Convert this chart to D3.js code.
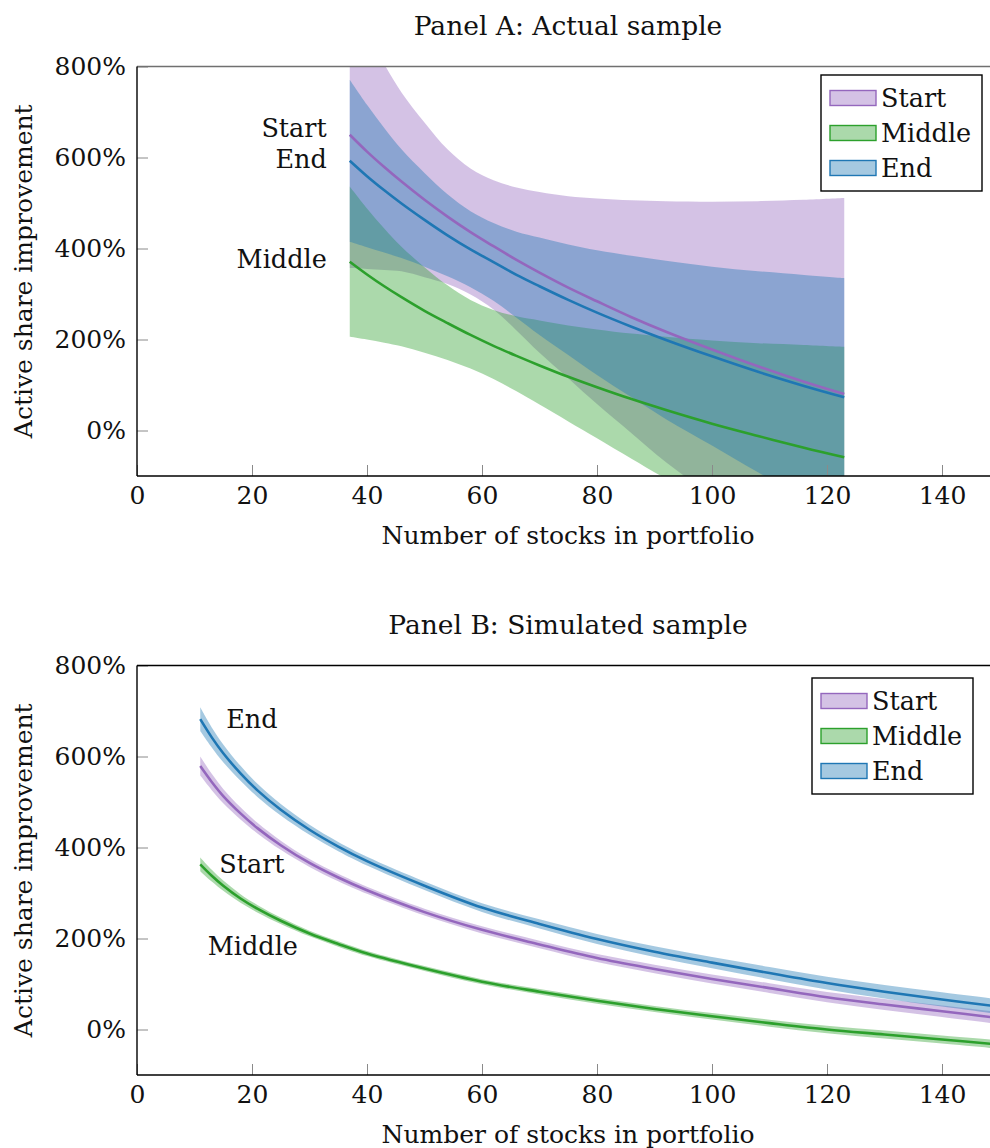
<!DOCTYPE html>
<html>
<head>
<meta charset="utf-8">
<script src="https://cdn.jsdelivr.net/npm/d3@7"></script>
<style>
  body { margin: 0; background: #fff; }
  svg { display: block; font-family: "DejaVu Serif", "Liberation Serif", serif; }
  svg text { font-family: "DejaVu Serif", "Liberation Serif", serif; }
</style>
</head>
<body>
<div id="chart"></div>
<script>
// ---- Panel A: actual sample (values in %) ----
const xA = [37, 40, 43, 46, 50, 54, 58, 62, 66, 70, 75, 80, 86, 92, 100, 108, 116, 123];
const startA   = [650, 613, 579, 547, 507, 470, 436, 405, 375, 347, 314, 284, 249, 217, 178, 141, 107, 80];
const startLoA = [357, 355, 353, 350, 337, 322, 299, 266, 220, 171, 115, 58, -6, -70, -144, -222, -294, -351];
const startHiA = [943, 871, 805, 743, 677, 618, 576, 550, 534, 524, 515, 510, 506, 504, 503, 504, 507, 511];
const middleA   = [371, 343, 317, 293, 263, 236, 210, 186, 164, 143, 118, 95, 69, 45, 15, -12, -38, -59];
const middleLoA = [206, 200, 193, 185, 171, 155, 136, 113, 86, 57, 20, -17, -62, -106, -160, -212, -262, -302];
const middleHiA = [536, 488, 444, 404, 359, 319, 287, 265, 251, 242, 231, 222, 213, 206, 198, 192, 188, 184];
const endA   = [593, 559, 528, 499, 463, 429, 398, 370, 342, 317, 287, 259, 228, 199, 163, 129, 98, 73];
const endLoA = [415, 403, 391, 379, 360, 339, 315, 285, 248, 210, 166, 122, 73, 25, -33, -92, -146, -189];
const endHiA = [771, 716, 665, 618, 566, 519, 482, 456, 437, 424, 409, 396, 384, 373, 360, 350, 342, 335];

// ---- Panel B: simulated sample (values in %, band half-widths in %) ----
const xB = [11, 13, 15, 18, 21, 25, 30, 35, 40, 50, 60, 70, 80, 90, 100, 110, 120, 130, 140, 150];
const startB  = [579, 544, 513, 475, 442, 405, 366, 334, 306, 258, 219, 187, 157, 133, 111, 91, 71, 55, 40, 25];
const startHwB = [21, 18, 15.8, 13.2, 11.6, 10.1, 8.8, 8.2, 7.8, 7.6, 7.8, 8.2, 8.8, 9.5, 10.1, 10.7, 11.3, 12, 12.6, 13.1];
const middleB  = [363, 338, 316, 288, 265, 239, 211, 188, 167, 134, 105, 83, 63, 45, 29, 14, 0, -11, -22, -33];
const middleHwB = [15, 12.9, 11.3, 9.5, 8.3, 7.2, 6.3, 5.9, 5.6, 5.4, 5.6, 5.9, 6.3, 6.8, 7.2, 7.7, 8.1, 8.6, 9, 9.4];
const endB  = [682, 642, 607, 563, 525, 483, 439, 402, 370, 316, 268, 232, 199, 171, 147, 124, 102, 83, 66, 50];
const endHwB = [26, 22, 19.5, 16.4, 14.3, 12.5, 10.9, 10.1, 9.6, 9.4, 9.6, 10.1, 10.9, 11.7, 12.5, 13.3, 14, 14.8, 15.6, 16.2];

const seriesNames = ['Start', 'Middle', 'End'];
const colors = { Start: '#9467bd', Middle: '#2ca02c', End: '#1f77b4' };
const xTicks = [0, 20, 40, 60, 80, 100, 120, 140];
const yTicks = [0, 200, 400, 600, 800];

const W = 990, H = 1148;
const FS = 25;
const svg = d3.select('#chart').append('svg')
  .attr('width', W).attr('height', H);

const x = d3.scaleLinear().domain([0, 150]).range([137, 999.5]);

function pack(xs, mid, lo, hi) {
  return xs.map((v, i) => ({ x: v, y: mid[i], lo: lo[i], hi: hi[i] }));
}

const panelA = {
  id: 'A', title: 'Panel A: Actual sample', top: 66.5, bottom: 476, topColor: '#707070',
  series: {
    Start: pack(xA, startA, startLoA, startHiA),
    Middle: pack(xA, middleA, middleLoA, middleHiA),
    End: pack(xA, endA, endLoA, endHiA)
  },
  labels: [
    { name: 'Start', x: 37, y: 645, dx: -23, anchor: 'end' },
    { name: 'End', x: 37, y: 577, dx: -23, anchor: 'end' },
    { name: 'Middle', x: 37, y: 357, dx: -23, anchor: 'end' }
  ],
  legend: { x: 821, y: 75 }
};

const panelB = {
  id: 'B', title: 'Panel B: Simulated sample', top: 665.5, bottom: 1075, topColor: '#000',
  series: {
    Start: pack(xB, startB, startB.map((v, i) => v - startHwB[i]), startB.map((v, i) => v + startHwB[i])),
    Middle: pack(xB, middleB, middleB.map((v, i) => v - middleHwB[i]), middleB.map((v, i) => v + middleHwB[i])),
    End: pack(xB, endB, endB.map((v, i) => v - endHwB[i]), endB.map((v, i) => v + endHwB[i]))
  },
  labels: [
    { name: 'End', x: 15.5, y: 662, dx: 0, anchor: 'start' },
    { name: 'Start', x: 14.3, y: 344, dx: 0, anchor: 'start' },
    { name: 'Middle', x: 12.3, y: 163.5, dx: 0, anchor: 'start' }
  ],
  legend: { x: 812, y: 678 }
};

function drawPanel(p) {
  const y = d3.scaleLinear().domain([-100, 800]).range([p.bottom, p.top]);
  const g = svg.append('g');
  const left = x.range()[0], right = x.range()[1];

  g.append('clipPath').attr('id', 'clip' + p.id)
    .append('rect')
      .attr('x', left).attr('y', p.top)
      .attr('width', right - left).attr('height', p.bottom - p.top);

  const plot = g.append('g').attr('clip-path', `url(#clip${p.id})`);

  // bands
  const area = d3.area()
    .x(d => x(d.x)).y0(d => y(d.lo)).y1(d => y(d.hi))
    .curve(d3.curveCatmullRom);
  seriesNames.forEach(n => {
    plot.append('path')
      .attr('d', area(p.series[n]))
      .attr('fill', colors[n])
      .attr('fill-opacity', 0.4);
  });

  // lines
  const line = d3.line().x(d => x(d.x)).y(d => y(d.y)).curve(d3.curveCatmullRom);
  seriesNames.forEach(n => {
    plot.append('path')
      .attr('d', line(p.series[n]))
      .attr('fill', 'none')
      .attr('stroke', colors[n])
      .attr('stroke-width', 2.6);
  });

  // axes
  const xAxisG = g.append('g')
    .attr('transform', `translate(0,${p.bottom})`)
    .call(d3.axisBottom(x).tickValues(xTicks).tickSizeInner(-11).tickSizeOuter(0).tickPadding(10));
  const yAxisG = g.append('g')
    .attr('transform', `translate(${left},0)`)
    .call(d3.axisLeft(y).tickValues(yTicks).tickSizeInner(-11).tickSizeOuter(0).tickPadding(11)
      .tickFormat(d => d + '%'));
  [xAxisG, yAxisG].forEach(a => {
    a.attr('font-family', null);
    a.select('.domain').remove();
    a.selectAll('.tick line').attr('stroke', '#8a8a8a').attr('stroke-width', 1);
    a.selectAll('.tick text').attr('font-size', FS).attr('fill', '#111');
  });

  // frame
  g.append('line').attr('x1', left).attr('x2', right).attr('y1', p.top).attr('y2', p.top)
    .attr('stroke', p.topColor).attr('stroke-width', 1.4);
  g.append('line').attr('x1', left).attr('x2', right).attr('y1', p.bottom).attr('y2', p.bottom)
    .attr('stroke', '#000').attr('stroke-width', 1.4);
  g.append('line').attr('x1', left).attr('x2', left).attr('y1', p.top).attr('y2', p.bottom)
    .attr('stroke', '#000').attr('stroke-width', 1.4);

  // titles
  const cx = 568;
  g.append('text').attr('x', cx).attr('y', p.top - 31.5)
    .attr('text-anchor', 'middle').attr('font-size', 26.5).attr('fill', '#111')
    .text(p.title);
  g.append('text').attr('x', cx).attr('y', p.bottom + 68)
    .attr('text-anchor', 'middle').attr('font-size', FS).attr('fill', '#111')
    .text('Number of stocks in portfolio');
  g.append('text')
    .attr('transform', `translate(32,${(p.top + p.bottom) / 2}) rotate(-90)`)
    .attr('text-anchor', 'middle').attr('font-size', FS).attr('fill', '#111')
    .text('Active share improvement');

  // curve labels
  p.labels.forEach(l => {
    g.append('text')
      .attr('x', x(l.x) + l.dx).attr('y', y(l.y))
      .attr('text-anchor', l.anchor).attr('font-size', FS + 0.5).attr('fill', '#111')
      .text(l.name);
  });

  // legend
  const lg = g.append('g').attr('transform', `translate(${p.legend.x},${p.legend.y})`);
  lg.append('rect').attr('width', 161).attr('height', 116)
    .attr('fill', '#fff').attr('stroke', '#000').attr('stroke-width', 1.4);
  seriesNames.forEach((n, i) => {
    const row = lg.append('g').attr('transform', `translate(0,${23 + i * 35})`);
    row.append('rect').attr('x', 9).attr('y', -7.5).attr('width', 46).attr('height', 15)
      .attr('fill', colors[n]).attr('fill-opacity', 0.4)
      .attr('stroke', colors[n]).attr('stroke-width', 1.4);
    row.append('text').attr('x', 60).attr('y', 9)
      .attr('font-size', FS + 0.5).attr('fill', '#111').text(n);
  });
}

drawPanel(panelA);
drawPanel(panelB);
</script>
</body>
</html>
